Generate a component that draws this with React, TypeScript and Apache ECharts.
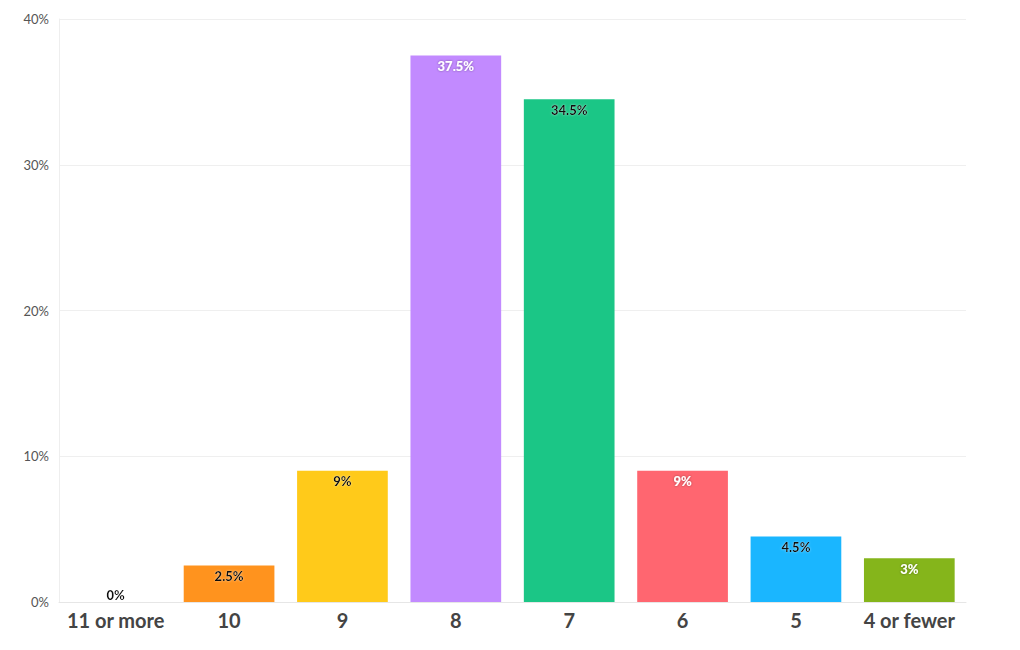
import React, { useEffect, useRef } from "react";
import * as echarts from "echarts";

const categories = ["11 or more", "10", "9", "8", "7", "6", "5", "4 or fewer"];
const values = [0, 2.5, 9, 37.5, 34.5, 9, 4.5, 3];
const colors = ["#2a9df4", "#ff931e", "#ffca1a", "#c28aff", "#1bc686", "#ff6670", "#1ab6ff", "#85b51b"];
const labelColors = ["#111", "#111", "#111", "#fff", "#111", "#fff", "#111", "#fff"];
const yTicks = [0, 10, 20, 30, 40];

export default function App() {
  const ref = useRef<HTMLDivElement>(null);
  useEffect(() => {
    const chart = echarts.init(ref.current!, null, { renderer: "svg" });
    const font = "Lato, 'Noto Sans', sans-serif";
    chart.setOption({
      animation: false,
      grid: { left: 59, right: 54, top: 19, bottom: 48 },
      xAxis: {
        type: "category",
        data: categories,
        axisLine: { lineStyle: { color: "#e6e6e6" } },
        axisTick: { alignWithLabel: true, length: 4, lineStyle: { color: "#e6e6e6" } },
        axisLabel: { interval: 0, color: "#444", fontSize: 20, fontWeight: "bold", fontFamily: font, margin: 8 },
      },
      yAxis: {
        type: "value",
        min: yTicks[0],
        max: yTicks[yTicks.length - 1],
        interval: 10,
        axisLine: { show: true, lineStyle: { color: "#eeeeee" } },
        axisTick: { show: false },
        splitLine: { lineStyle: { color: "#efefef" } },
        axisLabel: { color: "#555", fontSize: 13, fontFamily: font, formatter: "{value}%", margin: 10 },
      },
      series: [
        {
          type: "bar",
          barCategoryGap: "20%",
          data: values.map((v, i) => ({
            value: v,
            itemStyle: { color: colors[i] },
            label: {
              color: labelColors[i],
              position: v === 0 ? "top" : "insideTop",
              distance: v === 0 ? 1 : 4,
              textShadowColor: labelColors[i] === "#fff" ? "rgba(0,0,0,0.4)" : "rgba(255,255,255,0.5)",
              textShadowBlur: 2,
            },
          })),
          label: {
            show: true,
            fontSize: 13,
            fontWeight: 900,
            fontFamily: font,
            formatter: (p: any) => p.value + "%",
          },
        },
      ],
    });
    return () => chart.dispose();
  }, []);
  return <div ref={ref} style={{ width: 1020, height: 650, position: "absolute", left: 0, top: 0 }} />;
}
